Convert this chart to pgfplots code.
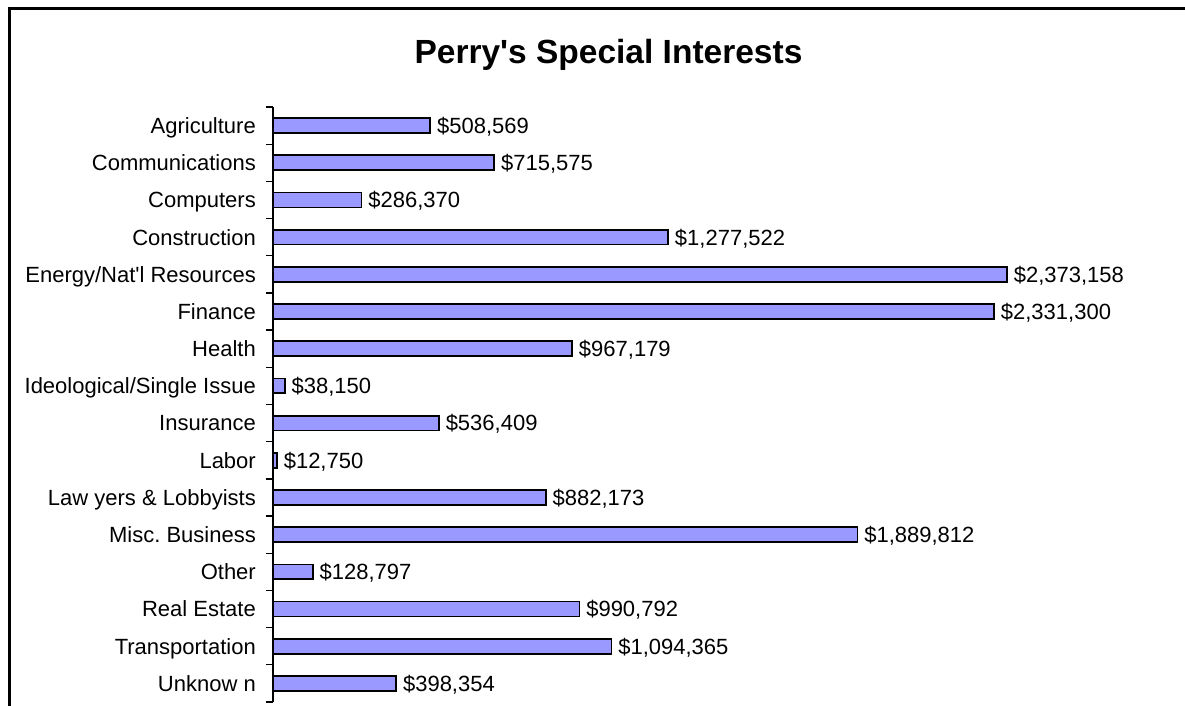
\documentclass[border=0pt]{standalone}
\usepackage{pgfplots}
\pgfplotsset{compat=1.18}
\usepackage{fontspec}
\setmainfont{Liberation Sans}
\definecolor{barfill}{HTML}{9999FF}
\newcommand{\lblfont}{\fontsize{22bp}{26bp}\selectfont}
\begin{document}
\begin{tikzpicture}[x=1bp,y=1bp]
\useasboundingbox (0bp,0bp) rectangle (1185bp,706bp);
\draw[line width=3bp] (9.5bp,0bp) -- (9.5bp,697.5bp) -- (1190bp,697.5bp);
\node[font=\fontsize{33.5bp}{38bp}\selectfont\bfseries] at (608.5bp,651bp) {Perry\textquotesingle s Special Interests};
\begin{axis}[
  at={(273bp,4bp)}, anchor=south west,
  scale only axis, width=866bp, height=595bp,
  xmin=0, xmax=2800000,
  ymin=-0.5, ymax=15.5, y dir=reverse,
  axis x line=none, axis y line*=left,
  axis line style={line width=1.3bp, -},
  xbar, bar width=0.4,
  ytick={0,...,15},
  yticklabels={Agriculture,Communications,Computers,Construction,Energy/Nat\textquotesingle l Resources,Finance,Health,Ideological/Single Issue,Insurance,Labor,Law yers \& Lobbyists,Misc.\ Business,Other,Real Estate,Transportation,Unknow n},
  minor ytick={-0.5,0.5,...,15.5},
  tick align=outside,
  major tick length=0pt,
  minor tick length=7bp,
  minor tick style={line width=1.3bp, black},
  yticklabel style={font=\lblfont, inner sep=0pt, anchor=east, text height=15.8bp, text depth=0pt},
  yticklabel shift=17bp,
  point meta=explicit symbolic,
  nodes near coords={\$\pgfplotspointmeta},
  every node near coord/.append style={font=\lblfont, inner sep=0pt, anchor=west, xshift=6bp, text height=15.8bp, text depth=0pt},
  clip=false,
]
\addplot[fill=barfill, draw=black, line width=1.7bp] table[x=v, y=c, meta=l] {
c v l
0 508569 508,569
1 715575 715,575
2 286370 286,370
3 1277522 1,277,522
4 2373158 2,373,158
5 2331300 2,331,300
6 967179 967,179
7 38150 38,150
8 536409 536,409
9 12750 12,750
10 882173 882,173
11 1889812 1,889,812
12 128797 128,797
13 990792 990,792
14 1094365 1,094,365
15 398354 398,354
};
\end{axis}
\end{tikzpicture}
\end{document}
